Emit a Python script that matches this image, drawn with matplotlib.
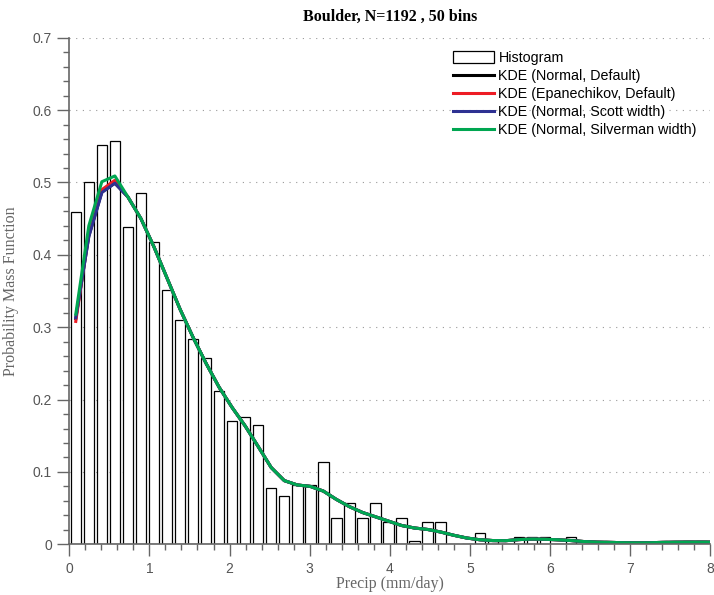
import numpy as np
import matplotlib
matplotlib.use("Agg")
import matplotlib.pyplot as plt
from matplotlib.patches import Patch
from matplotlib.ticker import MultipleLocator

station = "Boulder"
N = 1192
nbins = 50
data_max = 8.13   # mm/day, top edge of the last bin

# counts per bin (bins run 0 .. data_max)
counts = [89, 97, 107, 108, 85, 94, 81, 68, 60, 55,
          50, 41, 33, 34, 32, 15, 13, 16, 16, 22,
          7, 11, 7, 11, 6, 7, 1, 6, 6, 0,
          0, 3, 1, 0, 2, 2, 2, 0, 2, 0,
          0, 1, 0, 0, 0, 1, 0, 1, 1, 1]

# kde estimates at the bin centres; the four fits only differ near the peak
kde_head_normal = [0.312, 0.426, 0.487, 0.499]
kde_head_epan = [0.308, 0.431, 0.490, 0.503]
kde_head_scott = [0.313, 0.425, 0.486, 0.499]
kde_head_silver = [0.318, 0.440, 0.501, 0.509]
kde_tail = [0.480, 0.450, 0.411, 0.368, 0.325, 0.286, 0.250, 0.217, 0.189, 0.1635,
            0.135, 0.106, 0.088, 0.082, 0.080, 0.0735, 0.062, 0.052, 0.044, 0.038,
            0.032, 0.026, 0.0225, 0.0205, 0.017, 0.0125, 0.0087, 0.0063, 0.0052, 0.0050,
            0.0065, 0.0073, 0.0070, 0.0062, 0.0052, 0.0038, 0.0030, 0.0026, 0.0022, 0.0020,
            0.0021, 0.0026, 0.0029, 0.0030, 0.0030, 0.0029]

kde_labels = ["KDE (Normal, Default)", "KDE (Epanechikov, Default)",
              "KDE (Normal, Scott width)", "KDE (Normal, Silverman width)"]
kde_colors = ["#000000", "#ed1c24", "#2e3192", "#00a651"]

edges = np.linspace(0, data_max, nbins + 1)
bw = edges[1] - edges[0]
centers = 0.5 * (edges[:-1] + edges[1:])
pmf = np.array(counts) / (N * bw)

serif = "Liberation Serif"
sans = "Liberation Sans"
gray = "#666666"

fig = plt.figure(figsize=(7.14, 5.95), dpi=100)
ax = fig.add_axes([0.097, 0.0852, 0.898, 0.8514])

ax.bar(centers, pmf, width=0.8 * bw, color="white", edgecolor="black", linewidth=0.9, zorder=2)

heads = [kde_head_normal, kde_head_epan, kde_head_scott, kde_head_silver]
for head, lab, col in zip(heads, kde_labels, kde_colors):
    ax.plot(centers, head + kde_tail, color=col, lw=2.2, label=lab, zorder=3)

ax.set_xlim(0, 8)
ax.set_ylim(0, 0.7)
ax.xaxis.set_major_locator(MultipleLocator(1))
ax.xaxis.set_minor_locator(MultipleLocator(0.2))
ax.yaxis.set_major_locator(MultipleLocator(0.1))
ax.yaxis.set_minor_locator(MultipleLocator(0.02))
ax.set_yticks(np.arange(0, 0.71, 0.1))
ax.set_yticklabels(["0", "0.1", "0.2", "0.3", "0.4", "0.5", "0.6", "0.7"])

for s in ["top", "right"]:
    ax.spines[s].set_visible(False)
for s in ["left", "bottom"]:
    ax.spines[s].set_color(gray)
    ax.spines[s].set_linewidth(1.2)
ax.spines["bottom"].set_zorder(4)

ax.tick_params(which="major", direction="out", length=8.5, width=1, color=gray,
               labelcolor="#555555", labelsize=10, pad=4)
ax.tick_params(which="minor", direction="out", length=4, width=1, color=gray)
for t in ax.get_xticklabels() + ax.get_yticklabels():
    t.set_family(sans)

ax.yaxis.grid(True, which="major", linestyle=(0, (1, 5)), color="#999999", lw=0.8)
ax.set_axisbelow(True)

ax.set_xlabel("Precip (mm/day)", family=serif, fontsize=11.5, color="#666666", labelpad=0)
ax.set_ylabel("Probability Mass Function", family=serif, fontsize=11.5, color="#666666", labelpad=10)
ax.set_title(f"{station}, N={N} , {nbins} bins", family=serif, fontsize=11.5,
             fontweight="bold", pad=12)

handles, labels = ax.get_legend_handles_labels()
hist_handle = Patch(facecolor="white", edgecolor="black", linewidth=0.9)
leg = ax.legend([hist_handle] + handles, ["Histogram"] + labels,
                loc="upper left", bbox_to_anchor=(0.589, 0.985), frameon=False,
                prop={"family": sans, "size": 10.3}, handlelength=2.9, handleheight=0.9,
                handletextpad=0.3, labelspacing=0.28, borderaxespad=0)

fig.savefig("out.png", dpi=100)
